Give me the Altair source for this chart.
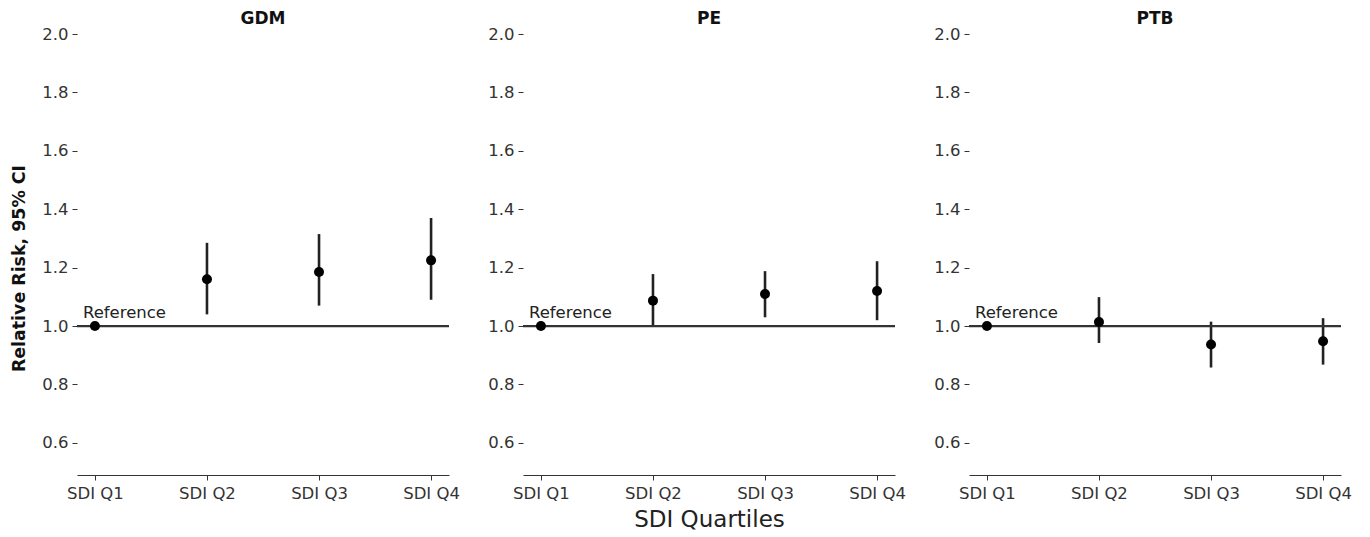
import altair as alt
import pandas as pd

outcomes = ["GDM", "PE", "PTB"]
quartiles = ["SDI Q1", "SDI Q2", "SDI Q3", "SDI Q4"]

gdm_rr = [1.0, 1.16, 1.185, 1.225]
gdm_lo = [None, 1.04, 1.07, 1.09]
gdm_hi = [None, 1.285, 1.315, 1.37]

pe_rr = [1.0, 1.087, 1.11, 1.12]
pe_lo = [None, 1.0, 1.03, 1.02]
pe_hi = [None, 1.178, 1.188, 1.222]

ptb_rr = [1.0, 1.014, 0.937, 0.948]
ptb_lo = [None, 0.942, 0.858, 0.868]
ptb_hi = [None, 1.099, 1.015, 1.027]

series = {
    "GDM": (gdm_rr, gdm_lo, gdm_hi),
    "PE": (pe_rr, pe_lo, pe_hi),
    "PTB": (ptb_rr, ptb_lo, ptb_hi),
}

FONT = "DejaVu Sans"
y_ticks = [0.6, 0.8, 1.0, 1.2, 1.4, 1.6, 1.8, 2.0]

panels = []
for i, name in enumerate(outcomes):
    rr, lo, hi = series[name]
    df = pd.DataFrame({"q": quartiles, "rr": rr, "lo": lo, "hi": hi})
    xscale = alt.Scale(type="point", domain=quartiles, padding=0.16)
    yscale = alt.Scale(domain=[0.49, 2.0], nice=False, zero=False)
    x_axis = alt.Axis(
        title="SDI Quartiles" if i == 1 else None,
        labelAngle=0, labelFontSize=16.5, labelColor="#333333", labelFont=FONT,
        tickSize=5, tickColor="#333333", domainColor="#333333", domainWidth=1.2,
        titleFontSize=23, titleFont=FONT, titleFontWeight="normal", titleColor="#222222",
        titlePadding=7, grid=False, labelPadding=5,
    )
    y_kwargs = dict(
        title="Relative Risk, 95% CI" if i == 0 else None,
        values=y_ticks, format=".1f", labelFontSize=16.5, labelColor="#333333", labelFont=FONT,
        tickSize=5, tickColor="#333333", domain=False, grid=False,
        titleFontSize=17.4, titleFont=FONT, titleFontWeight="bold", titleColor="#111111",
        titlePadding=13, labelPadding=4,
    )
    if i == 0:
        y_kwargs["titleY"] = 234
    y_axis = alt.Axis(**y_kwargs)
    base = alt.Chart(df)
    ref_line = base.mark_rule(color="#333333", strokeWidth=2.2).encode(
        y=alt.datum(1.0, scale=yscale)
    ).transform_filter("datum.q == 'SDI Q1'")
    err = base.mark_rule(color="#222222", strokeWidth=2.6).encode(
        x=alt.X("q:N", scale=xscale, axis=x_axis, sort=quartiles),
        y=alt.Y("lo:Q", scale=yscale, axis=y_axis),
        y2="hi:Q",
    ).transform_filter("isValid(datum.lo)")
    pts = base.mark_circle(color="black", opacity=1, size=100).encode(
        x=alt.X("q:N", scale=xscale, sort=quartiles),
        y=alt.Y("rr:Q", scale=yscale),
    )
    label = base.mark_text(
        text="Reference", align="left", baseline="bottom", dx=-12, dy=-5,
        fontSize=16.5, font=FONT, color="#222222",
    ).encode(
        x=alt.X("q:N", scale=xscale, sort=quartiles),
        y=alt.Y("rr:Q", scale=yscale),
    ).transform_filter("datum.q == 'SDI Q1'")
    layer = alt.layer(err, ref_line, pts, label).properties(
        width=372, height=441,
        title=alt.TitleParams(name, fontSize=17, font=FONT, fontWeight="bold", color="#111111", offset=-2),
    )
    panels.append(layer)

chart = alt.hconcat(*panels, spacing=27).configure(
    background="white", padding={"left": 2, "top": 2, "right": 5, "bottom": 5}
).configure_view(stroke=None)

chart.save("out.html", embed_options={"renderer": "svg", "actions": False})
